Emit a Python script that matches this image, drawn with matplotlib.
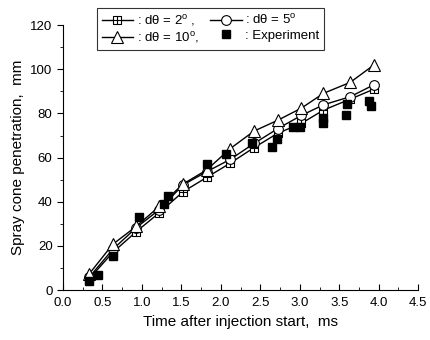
import numpy as np
import matplotlib
matplotlib.use('Agg')
import matplotlib.pyplot as plt
from matplotlib.path import Path

plt.rcParams['font.family'] = ['Liberation Sans', 'DejaVu Sans']
plt.rcParams['mathtext.fontset'] = 'custom'
plt.rcParams['mathtext.rm'] = 'Liberation Sans'

# simulated time steps, ms
t_sim = [0.33, 0.63, 0.93, 1.22, 1.52, 1.82, 2.12, 2.42, 2.72, 3.02, 3.30, 3.64, 3.94]
pen_2 = [5.0, 17.0, 26.5, 35.0, 44.5, 51.0, 57.5, 64.5, 71.0, 75.5, 81.5, 86.5, 91.0]
pen_5 = [5.7, 18.4, 28.3, 36.4, 47.6, 53.6, 59.2, 66.4, 73.1, 79.1, 83.9, 87.6, 93.0]
pen_10 = [7.2, 20.7, 28.9, 37.9, 48.0, 54.4, 64.1, 72.0, 76.9, 82.4, 89.1, 94.1, 102.0]

# experiment
t_exp = [0.33, 0.44, 0.63, 0.96, 1.28, 1.33, 1.83, 2.07, 2.40, 2.65, 2.71, 2.92, 3.00,
         3.30, 3.30, 3.59, 3.60, 3.88, 3.90]
pen_exp = [4.0, 7.0, 15.5, 33.0, 39.0, 42.5, 57.0, 61.5, 66.5, 65.0, 68.5, 74.0, 74.0,
           78.0, 75.5, 79.5, 84.5, 85.5, 83.5]

# square with a cross inside
sq_cross = Path([(-1, -1), (1, -1), (1, 1), (-1, 1), (-1, -1),
                 (-1, 0), (1, 0), (0, -1), (0, 1)],
                [Path.MOVETO, Path.LINETO, Path.LINETO, Path.LINETO, Path.CLOSEPOLY,
                 Path.MOVETO, Path.LINETO, Path.MOVETO, Path.LINETO])

fig = plt.figure(figsize=(4.3, 3.4), dpi=100)
ax = fig.add_axes([0.1465, 0.147, 0.826, 0.779])

l2, = ax.plot(t_sim, pen_2, color='black', lw=1.0, marker=sq_cross, ms=6,
              mfc='white', mec='black', mew=0.8)
l5, = ax.plot(t_sim, pen_5, color='black', lw=1.0, marker='o', ms=7,
              mfc='white', mec='black', mew=0.8)
l10, = ax.plot(t_sim, pen_10, color='black', lw=1.0, marker='^', ms=8.5,
               mfc='white', mec='black', mew=0.8)
le, = ax.plot(t_exp, pen_exp, ls='none', marker='s', ms=6, color='black')

ax.set_xlim(0, 4.5)
ax.set_ylim(0, 120)
ax.set_xticks(np.arange(0, 4.51, 0.5))
ax.set_xticks(np.arange(0, 4.51, 0.25), minor=True)
ax.set_yticks(np.arange(0, 121, 20))
ax.set_yticks(np.arange(0, 121, 10), minor=True)
ax.set_xticklabels(['%.1f' % v for v in np.arange(0, 4.51, 0.5)])
ax.tick_params(axis='x', which='major', direction='in', length=4, labelsize=9.5, pad=5)
ax.tick_params(axis='x', which='minor', direction='in', length=2)
ax.tick_params(axis='y', which='major', direction='out', length=4, labelsize=9.5)
ax.tick_params(axis='y', which='minor', direction='out', length=2)
for s in ['top', 'right']:
    ax.spines[s].set_visible(False)

ax.set_xlabel('Time after injection start,  ms', fontsize=11)
ax.set_ylabel('Spray cone penetration,  mm', fontsize=11)

leg = fig.legend([l2, l10, l5, le],
                 [': dθ = 2$^{\\mathrm{o}}$ ,', ': dθ = 10$^{\\mathrm{o}}$,',
                  ': dθ = 5$^{\\mathrm{o}}$', ': Experiment'],
                 ncol=2, loc='upper left', bbox_to_anchor=(0.2256, 0.976),
                 fontsize=9.5, frameon=True, fancybox=False, edgecolor='black',
                 handlelength=2.4, handletextpad=0.3, columnspacing=0.8,
                 borderpad=0.35, labelspacing=0.2, borderaxespad=0)
leg.get_frame().set_linewidth(0.8)

fig.savefig('out.png', dpi=100)
